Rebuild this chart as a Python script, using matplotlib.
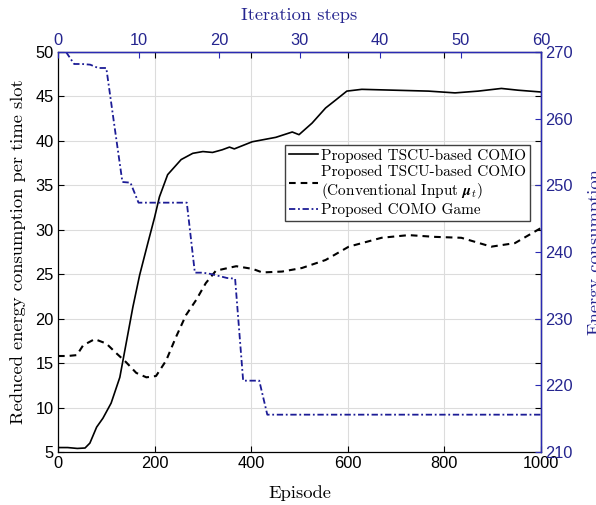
import matplotlib
matplotlib.use("Agg")
import matplotlib.pyplot as plt

# ---- data ----
ep_tscu = [0, 20, 40, 56, 66, 80, 93, 110, 128, 141, 155, 169, 186, 200, 210, 227, 255, 279,
           300, 320, 340, 355, 365, 402, 451, 485, 499, 526, 554, 575, 598, 629, 698, 767, 822,
           870, 918, 953, 1000]
val_tscu = [5.5, 5.5, 5.4, 5.45, 6.0, 7.8, 8.8, 10.5, 13.4, 17.2, 21.3, 24.9, 28.5, 31.4, 33.7,
            36.2, 37.9, 38.6, 38.8, 38.7, 39.0, 39.3, 39.1, 39.9, 40.4, 41.0, 40.7, 42.0, 43.7,
            44.6, 45.6, 45.8, 45.7, 45.6, 45.4, 45.6, 45.9, 45.7, 45.5]

ep_conv = [0, 20, 39, 52, 76, 100, 121, 141, 162, 183, 203, 224, 244, 265, 286, 306, 327, 369,
           403, 423, 464, 505, 554, 602, 670, 726, 781, 835, 897, 946, 1000]
val_conv = [15.8, 15.8, 15.9, 17.0, 17.7, 17.2, 16.1, 15.1, 13.9, 13.4, 13.55, 15.3, 17.9, 20.4,
            22.1, 24.0, 25.4, 25.9, 25.6, 25.2, 25.3, 25.7, 26.6, 28.1, 29.1, 29.4, 29.2, 29.1,
            28.1, 28.5, 30.2]

iters = [1, 2, 3, 4, 5, 6, 7, 8, 9, 10, 16, 17, 18, 19, 20, 21, 22, 23, 25, 26, 60]
energy = [270, 268.2, 268.2, 268.1, 267.6, 267.6, 259.0, 250.5, 250.4, 247.4, 247.4, 236.9,
          236.9, 236.7, 236.4, 236.1, 236.0, 220.7, 220.7, 215.6, 215.6]

left_ticks = [5, 10, 15, 20, 25, 30, 35, 40, 45, 50]
bottom_ticks = [0, 200, 400, 600, 800, 1000]
top_ticks = [0, 10, 20, 30, 40, 50, 60]
right_ticks = [210, 220, 230, 240, 250, 260, 270]

plt.rcParams['mathtext.fontset'] = 'cm'
SANS = 'Liberation Sans'
SERIF = 'cmr10'
BLUE_AX = '#2a2ab4'
BLUE_TXT = '#25258f'
BLUE_LINE = '#1c1c96'
TICK_FS = 11.8
LAB_FS = 13.3

fig = plt.figure(figsize=(5.96, 5.05), dpi=100)
pos = [58 / 596, 1 - 452 / 505, (541 - 58) / 596, 400 / 505]
ax1 = fig.add_axes(pos)
ax2 = fig.add_axes(pos, facecolor='none')

# primary axes
ax1.set_xlim(0, 1000)
ax1.set_ylim(5, 50)
ax1.set_xticks(bottom_ticks)
ax1.set_yticks(left_ticks)
ax1.grid(True, color='#dcdcdc', linewidth=0.8)
ax1.set_axisbelow(True)
ax1.tick_params(direction='in', top=True, right=True, length=4, width=0.8,
                labelsize=TICK_FS, colors='black', pad=3)
for lab in ax1.get_xticklabels() + ax1.get_yticklabels():
    lab.set_fontfamily(SANS)
for s in ax1.spines.values():
    s.set_color('black')
    s.set_linewidth(0.9)

l1, = ax1.plot(ep_tscu, val_tscu, color='black', lw=1.2, label='Proposed TSCU-based COMO')
l2, = ax1.plot(ep_conv, val_conv, color='black', lw=1.5, dashes=(3.2, 2.4),
               label='Proposed TSCU-based COMO\n(Conventional Input $\\boldsymbol{\\mu}_t$)')
ax1.set_xlabel('Episode', fontfamily=SERIF, fontsize=LAB_FS, labelpad=10)
ax1.set_ylabel('Reduced energy consumption per time slot', fontfamily=SERIF, fontsize=LAB_FS,
               labelpad=7)

# secondary axes
ax2.set_xlim(0, 60)
ax2.set_ylim(210, 270)
ax2.xaxis.tick_top()
ax2.yaxis.tick_right()
ax2.xaxis.set_label_position('top')
ax2.set_xticks(top_ticks)
ax2.set_yticks(right_ticks)
ax2.tick_params(direction='in', length=4, width=0.8, labelsize=TICK_FS, colors=BLUE_TXT, pad=3)
ax2.tick_params(axis='both', color=BLUE_AX)
for lab in ax2.get_xticklabels() + ax2.get_yticklabels():
    lab.set_fontfamily(SANS)
for side in ['left', 'bottom']:
    ax2.spines[side].set_visible(False)
for side in ['top', 'right']:
    ax2.spines[side].set_color(BLUE_AX)
    ax2.spines[side].set_linewidth(1.0)

l3, = ax2.plot(iters, energy, color=BLUE_LINE, lw=1.3, dashes=(3.5, 1.5, 1.0, 1.5),
               label='Proposed COMO Game')
ax2.set_xlabel('Iteration steps', fontfamily=SERIF, fontsize=LAB_FS, color=BLUE_TXT, labelpad=9)
fig.text(588 / 596, pos[1] + 0.5 * pos[3], 'Energy consumption', rotation=90,
         fontfamily=SERIF, fontsize=LAB_FS, color=BLUE_TXT, ha='left', va='center')

leg = ax2.legend(handles=[l1, l2, l3], loc='upper right', bbox_to_anchor=(0.977, 0.768),
                 prop={'family': SERIF, 'size': 11}, frameon=True, fancybox=False,
                 handlelength=1.9, handletextpad=0.2, borderpad=0.25, labelspacing=0.1,
                 borderaxespad=0)
leg.get_frame().set_edgecolor('#404040')
leg.get_frame().set_linewidth(1.0)
leg.get_frame().set_alpha(1)

fig.savefig('out.png', dpi=100)
